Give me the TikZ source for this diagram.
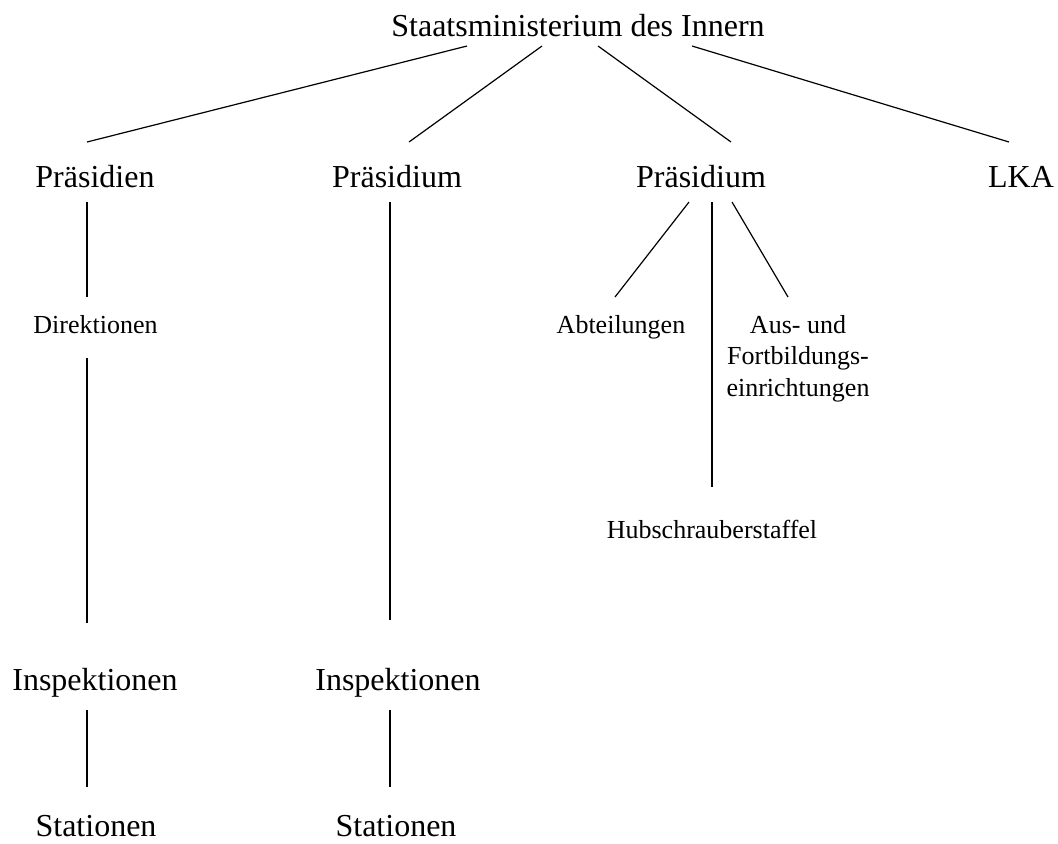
\documentclass[tikz,border=0pt]{standalone}
\usepackage{fontspec}
\setmainfont{Liberation Serif}
\begin{document}
\begin{tikzpicture}[x=0.5pt,y=-0.5pt,
        gross/.style={font=\fontsize{16}{19}\selectfont,inner sep=0pt,anchor=base},
        klein/.style={font=\fontsize{13}{15.7}\selectfont,inner sep=0pt,anchor=base,align=center},
        strich/.style={line width=0.6pt}]
        %\draw[very thin,gray,step=50] (0,0) grid (1058,843) ;
        \useasboundingbox (0,0) rectangle (1058,843) ;
        \node[gross] (sm) at (578,36) {Staatsministerium des Innern} ;
        \node[gross] (p1) at (95,187) {Präsidien} ;
        \node[gross] (p2) at (397,187) {Präsidium} ;
        \node[gross] (p3) at (701,187) {Präsidium} ;
        \node[gross] (lka) at (1021,187) {LKA} ;
        \node[klein] (dir) at (95.5,333) {Direktionen} ;
        \node[klein] (abt) at (621,333) {Abteilungen} ;
        \node[klein,anchor=north] (aus) at (798,315)
        {Aus- und\\Fortbildungs-\\einrichtungen} ;
        \node[klein] (hub) at (712,538) {Hubschrauberstaffel} ;
        \node[gross] (in1) at (95,690) {Inspektionen} ;
        \node[gross] (in2) at (398,690) {Inspektionen} ;
        \node[gross] (st1) at (96,836) {Stationen} ;
        \node[gross] (st2) at (396,836) {Stationen} ;
        % Ministerium -> Praesidien, LKA
        \draw[strich] ([shift={(-111,10)}]sm.base) -- ([shift={(-8,-45)}]p1.base) ;
        \draw[strich] ([shift={(-36,10)}]sm.base) -- ([shift={(12,-45)}]p2.base) ;
        \draw[strich] ([shift={(20,10)}]sm.base) -- ([shift={(30,-45)}]p3.base) ;
        \draw[strich] ([shift={(114,10)}]sm.base) -- ([shift={(-12,-45)}]lka.base) ;
        % linke Spalte
        \draw[strich] ([shift={(-8,15)}]p1.base) -- ([shift={(-8.5,-36)}]dir.base) ;
        \draw[strich] ([shift={(-8.5,25)}]dir.base) -- ([shift={(-8,-67)}]in1.base) ;
        \draw[strich] ([shift={(-8,20)}]in1.base) -- ([shift={(-9,-49)}]st1.base) ;
        % zweite Spalte
        \draw[strich] ([shift={(-7,15)}]p2.base) -- ([shift={(-8,-70)}]in2.base) ;
        \draw[strich] ([shift={(-8,20)}]in2.base) -- ([shift={(-6,-49)}]st2.base) ;
        % dritte Spalte
        \draw[strich] ([shift={(-12,15)}]p3.base) -- ([shift={(-6,-36)}]abt.base) ;
        \draw[strich] ([shift={(11,15)}]p3.base) -- ([shift={(0,-51)}]hub.base) ;
        \draw[strich] ([shift={(31,15)}]p3.base) -- ([shift={(-10,-18)}]aus.north) ;
\end{tikzpicture}
\end{document}
